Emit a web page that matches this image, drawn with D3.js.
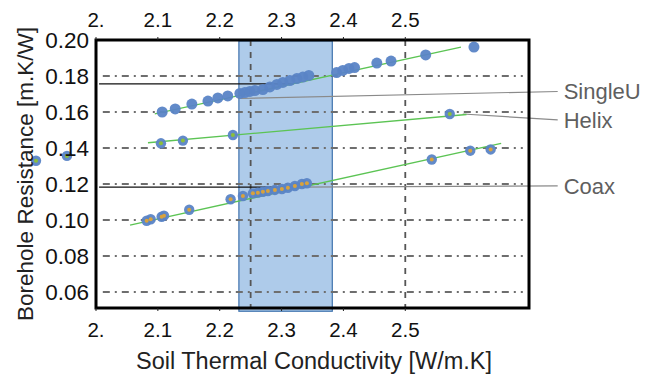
<!DOCTYPE html>
<html>
<head>
<meta charset="utf-8">
<script src="https://cdn.jsdelivr.net/npm/d3@7"></script>
<style>
  body { margin: 0; background: #fff; }
  text { font-family: "Liberation Sans", Arial, sans-serif; }
</style>
</head>
<body>
<script>
// data
var singleX = [2.107, 2.128, 2.155, 2.181, 2.197, 2.213, 2.2326, 2.2407, 2.2488, 2.2569, 2.2698, 2.2811, 2.2924, 2.3021, 2.3134, 2.3247, 2.3344, 2.3441, 2.389, 2.399, 2.409, 2.418, 2.454, 2.477, 2.533, 2.611];
var singleY = [0.1600, 0.1617, 0.1644, 0.1661, 0.1678, 0.1689, 0.1703, 0.1708, 0.1714, 0.1719, 0.1725, 0.1739, 0.1753, 0.1764, 0.1775, 0.1786, 0.1794, 0.1803, 0.1819, 0.1831, 0.1842, 0.1847, 0.1872, 0.1883, 0.1917, 0.1961];
var helixX = [1.903, 1.953, 2.105, 2.1405, 2.2213, 2.5719];
var helixY = [0.1329, 0.1356, 0.1426, 0.1441, 0.1472, 0.1589];
var coaxX = [2.0819, 2.0884, 2.1061, 2.1099, 2.1507, 2.2176, 2.2375, 2.2536, 2.2617, 2.2698, 2.2779, 2.2892, 2.3005, 2.3102, 2.3215, 2.3328, 2.3409, 2.5428, 2.605, 2.638];
var coaxY = [0.0996, 0.1004, 0.1018, 0.1024, 0.1057, 0.1115, 0.1133, 0.1148, 0.1152, 0.1157, 0.1161, 0.1167, 0.1172, 0.1179, 0.1189, 0.1200, 0.1204, 0.1336, 0.1385, 0.1392];

// straight fit lines, [x0, y0, x1, y1]
var fitSingle = [2.095, 0.1589, 2.590, 0.1961];
var fitHelix = [2.084, 0.1429, 2.599, 0.1586];
var fitCoax = [2.055, 0.0972, 2.655, 0.1426];

var xTicks = [2.0, 2.1, 2.2, 2.3, 2.4, 2.5];
var xTickLabels = ["2.", "2.1", "2.2", "2.3", "2.4", "2.5"];
var yTicks = [0.06, 0.08, 0.10, 0.12, 0.14, 0.16, 0.18, 0.20];
var yGrid = [0.06, 0.08, 0.10, 0.12, 0.14, 0.16, 0.18];
var vLines = [2.25, 2.5];
var band = [2.231, 2.382];
var refY = [0.1756, 0.1183];
var refX = [2.005, 2.319];

// labels with leader lines: start point and label height
var labelNames = ["SingleU", "Helix", "Coax"];
var leaderX = [2.2294, 2.5929, 2.3183];
var leaderY = [0.1675, 0.1589, 0.1183];
var labelY = [0.1714, 0.1556, 0.1189];
var labelX = 2.7464;

var W = 646, H = 378;
var x = d3.scaleLinear().domain([2.0, 2.7]).range([96, 529]);
var y = d3.scaleLinear().domain([0.0511, 0.2]).range([308, 40]);

var svg = d3.select("body").append("svg")
    .attr("width", W)
    .attr("height", H);

//shaded band
svg.append("rect")
    .attr("x", x(band[0]))
    .attr("y", y(0.1995))
    .attr("width", x(band[1]) - x(band[0]))
    .attr("height", y(0.0493) - y(0.1995))
    .attr("fill", "#aecbea")
    .attr("stroke", "#3f73ad")
    .attr("stroke-width", 1.2);

//dash-dot horizontal grid
svg.selectAll(".hgrid")
    .data(yGrid)
    .enter().append("line")
    .attr("x1", x(2.011)).attr("x2", x(2.69))
    .attr("y1", d => y(d)).attr("y2", d => y(d))
    .attr("stroke", "#6e6e6e")
    .attr("stroke-width", 1.8)
    .attr("stroke-dasharray", "7,5,2,5");

//dashed vertical lines
svg.selectAll(".vgrid")
    .data(vLines)
    .enter().append("line")
    .attr("x1", d => x(d)).attr("x2", d => x(d))
    .attr("y1", y(0.2)).attr("y2", y(0.0511))
    .attr("stroke", "#555")
    .attr("stroke-width", 1.8)
    .attr("stroke-dasharray", "6,6");

//black reference lines
svg.selectAll(".ref")
    .data(refY)
    .enter().append("line")
    .attr("x1", x(refX[0])).attr("x2", x(refX[1]))
    .attr("y1", d => y(d)).attr("y2", d => y(d))
    .attr("stroke", "#111")
    .attr("stroke-width", 1.3);

//leader lines to the labels
svg.selectAll(".leader")
    .data(labelNames)
    .enter().append("line")
    .attr("x1", (d, i) => x(leaderX[i]))
    .attr("y1", (d, i) => y(leaderY[i]))
    .attr("x2", x(labelX))
    .attr("y2", (d, i) => y(labelY[i]))
    .attr("stroke", "#8a8a8a")
    .attr("stroke-width", 1.2);

svg.selectAll(".lab")
    .data(labelNames)
    .enter().append("text")
    .attr("x", x(labelX) + 6)
    .attr("y", (d, i) => y(labelY[i]))
    .attr("dy", "0.35em")
    .attr("font-size", 22)
    .attr("fill", "#5f5f5f")
    .text(d => d);

//fit lines
[fitSingle, fitHelix, fitCoax].forEach(f => {
    svg.append("line")
        .attr("x1", x(f[0])).attr("y1", y(f[1]))
        .attr("x2", x(f[2])).attr("y2", y(f[3]))
        .attr("stroke", "#5cc454")
        .attr("stroke-width", 1.3);
});

//points
function drawPoints(xs, ys, r, inner) {
    var g = svg.append("g");
    xs.forEach((v, i) => {
        g.append("circle")
            .attr("cx", x(v)).attr("cy", y(ys[i]))
            .attr("r", r)
            .attr("fill", "#5a84c6")
            .attr("fill-opacity", 0.95);
    });
    if (inner) {
        xs.forEach((v, i) => {
            g.append("circle")
                .attr("cx", x(v)).attr("cy", y(ys[i]))
                .attr("r", 2)
                .attr("fill", inner);
        });
    }
}
drawPoints(singleX, singleY, 5.5, null);
drawPoints(helixX, helixY, 5.2, "#8cbf3a");
drawPoints(coaxX, coaxY, 5.2, "#d8a23c");

//frame
svg.append("rect")
    .attr("x", x(2.0)).attr("y", y(0.2))
    .attr("width", x(2.7) - x(2.0))
    .attr("height", y(0.0511) - y(0.2))
    .attr("fill", "none")
    .attr("stroke", "#000")
    .attr("stroke-width", 3);

//ticks, bottom and top
[[y(0.0511), 1, 337], [y(0.2), -1, 27]].forEach(s => {
    svg.selectAll(null)
        .data(xTicks)
        .enter().append("line")
        .attr("x1", d => x(d)).attr("x2", d => x(d))
        .attr("y1", s[0]).attr("y2", s[0] + s[1] * 3)
        .attr("stroke", "#222").attr("stroke-width", 1);
    svg.selectAll(null)
        .data(xTicks)
        .enter().append("text")
        .attr("x", d => x(d))
        .attr("y", s[2])
        .attr("text-anchor", "middle")
        .attr("font-size", 20.5)
        .attr("fill", "#111")
        .text((d, i) => xTickLabels[i]);
});

svg.selectAll(".ytick")
    .data(yTicks)
    .enter().append("text")
    .attr("x", 89)
    .attr("y", d => y(d))
    .attr("dy", "0.36em")
    .attr("text-anchor", "end")
    .attr("font-size", 22.5)
    .attr("fill", "#111")
    .text(d => d3.format(".2f")(d));

//axis titles
svg.append("text")
    .attr("x", 314)
    .attr("y", 369)
    .attr("text-anchor", "middle")
    .attr("font-size", 23.5)
    .attr("fill", "#222")
    .text("Soil Thermal Conductivity [W/m.K]");

svg.append("text")
    .attr("transform", "translate(33,174) rotate(-90)")
    .attr("text-anchor", "middle")
    .attr("font-size", 22.5)
    .attr("fill", "#222")
    .text("Borehole Resistance [m.K/W]");
</script>
</body>
</html>
